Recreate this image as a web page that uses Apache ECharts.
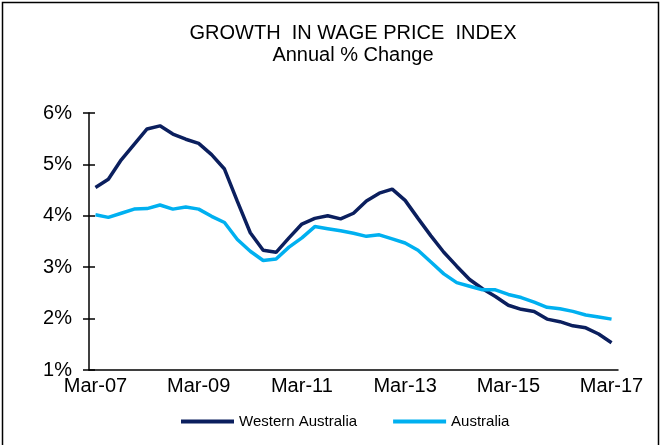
<!DOCTYPE html>
<html>
<head>
<meta charset="utf-8">
<script src="https://cdn.jsdelivr.net/npm/echarts@6/dist/echarts.min.js"></script>
<style>html,body{margin:0;padding:0;background:#fff}#c{width:663px;height:445px}</style>
</head>
<body>
<div id="c"></div>
<script>
var quarters = (function(){
  var m = ['Mar','Jun','Sep','Dec'], out = [];
  for (var y = 7; y <= 17; y++) for (var q = 0; q < 4; q++) {
    if (y === 17 && q > 0) break;
    out.push(m[q] + '-' + (y < 10 ? '0' + y : '' + y));
  }
  return out;
})();
var westernAustralia = [4.55,4.71,5.09,5.39,5.69,5.75,5.59,5.49,5.41,5.19,4.91,4.28,3.67,3.33,3.29,3.57,3.84,3.95,4.00,3.94,4.05,4.29,4.44,4.52,4.30,3.95,3.61,3.29,3.02,2.76,2.58,2.43,2.26,2.18,2.14,1.99,1.94,1.86,1.82,1.70,1.53];
var australia = [4.02,3.97,4.05,4.13,4.14,4.21,4.13,4.17,4.13,3.99,3.87,3.54,3.31,3.13,3.16,3.39,3.57,3.79,3.75,3.71,3.66,3.60,3.63,3.55,3.47,3.33,3.10,2.87,2.70,2.63,2.56,2.56,2.47,2.41,2.32,2.22,2.19,2.14,2.07,2.03,1.99];
var seriesNames = ['Western Australia','Australia'];
var titleText = 'GROWTH  IN WAGE PRICE  INDEX';
var subTitleText = 'Annual % Change';

var FONT = '"Liberation Sans", Arial, sans-serif';
var chart = echarts.init(document.getElementById('c'), null, {renderer:'canvas'});
chart.setOption({
  animation: false,
  backgroundColor: '#fff',
  graphic: [{
    type: 'rect', shape: {x: 2.5, y: 2.5, width: 656, height: 460},
    style: {fill: 'none', stroke: '#000', lineWidth: 1.5}, silent: true
  }],
  title: [
    {text: titleText, left: 348, top: 18, textAlign: 'center',
     textStyle: {fontFamily: FONT, fontSize: 20, fontWeight: 'normal', color: '#000'}},
    {text: subTitleText, left: 348, top: 40, textAlign: 'center',
     textStyle: {fontFamily: FONT, fontSize: 20, fontWeight: 'normal', color: '#000'}}
  ],
  legend: {
    data: seriesNames, left: 176, top: 409, icon: 'rect', itemWidth: 53, itemHeight: 4,
    itemGap: 36, textStyle: {fontFamily: FONT, fontSize: 15, color: '#000'}
  },
  grid: {left: 89, right: 45, top: 113, bottom: 75, containLabel: false},
  xAxis: {
    type: 'category', data: quarters, boundaryGap: true,
    axisLine: {lineStyle: {color: '#000', width: 1.5}},
    axisTick: {interval: 1, length: 5, lineStyle: {color: '#000', width: 1.5}},
    axisLabel: {interval: 7, margin: 6, fontFamily: FONT, fontSize: 20, color: '#000'},
    splitLine: {show: false}
  },
  yAxis: [{
    type: 'value', min: 1, max: 6, interval: 1,
    axisLine: {show: true, lineStyle: {color: '#000', width: 1.5}},
    axisTick: {show: true, length: 6, lineStyle: {color: '#000', width: 1.5}},
    axisLabel: {margin: 17, fontFamily: FONT, fontSize: 20, color: '#000', formatter: '{value}%'},
    splitLine: {show: false}
  }, {
    type: 'value', min: 1, max: 6, interval: 1, position: 'left',
    axisLine: {show: false},
    axisTick: {show: true, inside: true, length: 6, lineStyle: {color: '#000', width: 1.5}},
    axisLabel: {show: false}, splitLine: {show: false}
  }],
  series: [
    {name: seriesNames[0], type: 'line', data: westernAustralia, symbol: 'none',
     lineStyle: {color: '#0b1f5e', width: 3.5}, itemStyle: {color: '#0b1f5e'}},
    {name: seriesNames[1], type: 'line', data: australia, symbol: 'none',
     lineStyle: {color: '#00b0f0', width: 3.5}, itemStyle: {color: '#00b0f0'}}
  ]
});
</script>
</body>
</html>
